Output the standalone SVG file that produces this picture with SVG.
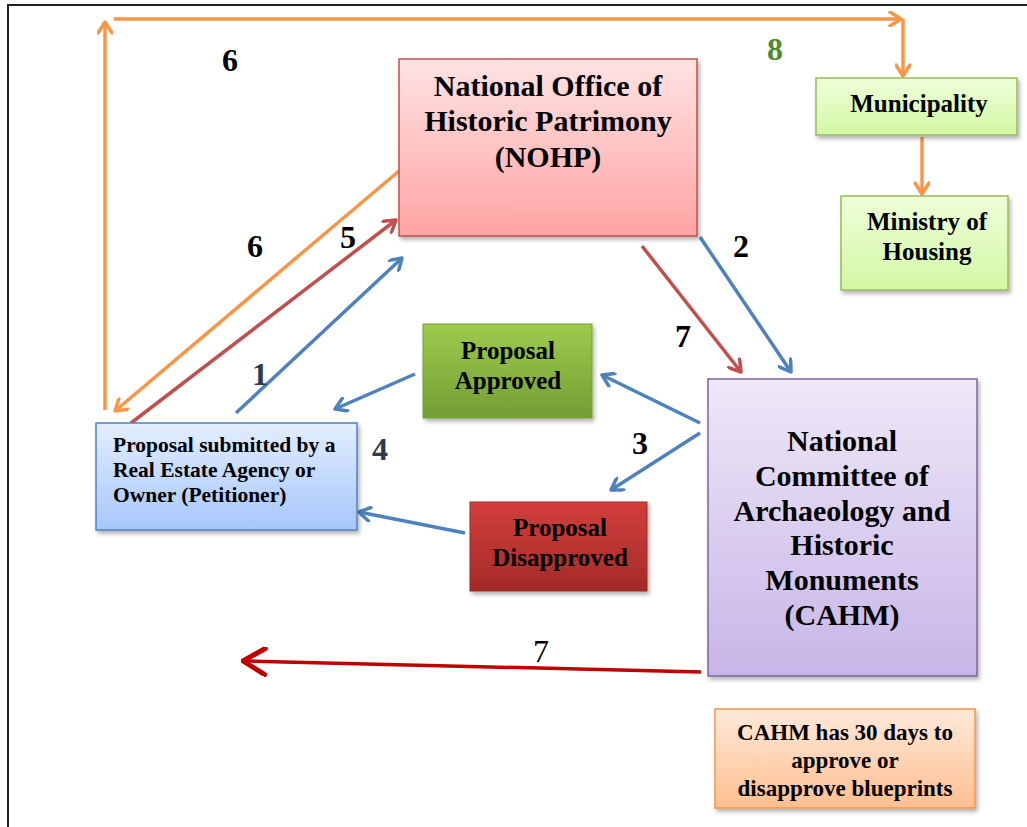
<svg xmlns="http://www.w3.org/2000/svg" width="1027" height="827" viewBox="0 0 1027 827">
<style>
text{font-family:"Liberation Serif","Times New Roman",serif;font-weight:bold;fill:#000}
.c{text-anchor:middle}
.big{font-size:30px}
.mid{font-size:25px}
.num{font-size:32px}
.conn line{fill:none;stroke-width:3.5}
.o{stroke:#F79646}
.b{stroke:#4F81BD}
.r{stroke:#C0504D}
</style>
<defs>
<filter id="sh" x="-10%" y="-10%" width="130%" height="130%">
<feDropShadow dx="2" dy="3" stdDeviation="2" flood-color="#000" flood-opacity="0.3"/>
</filter>
<linearGradient id="gPink" x1="0" y1="0" x2="0" y2="1"><stop offset="0" stop-color="#FFE3E3"/><stop offset="1" stop-color="#FFA3A3"/></linearGradient>
<linearGradient id="gLime" x1="0" y1="0" x2="0" y2="1"><stop offset="0" stop-color="#EEFFD8"/><stop offset="1" stop-color="#D3F7A5"/></linearGradient>
<linearGradient id="gGreen" x1="0" y1="0" x2="0" y2="1"><stop offset="0" stop-color="#9DCB4C"/><stop offset="1" stop-color="#739E34"/></linearGradient>
<linearGradient id="gBlue" x1="0" y1="0" x2="0" y2="1"><stop offset="0" stop-color="#E3EEFF"/><stop offset="1" stop-color="#A6C6FA"/></linearGradient>
<linearGradient id="gRed" x1="0" y1="0" x2="0" y2="1"><stop offset="0" stop-color="#D33F3C"/><stop offset="1" stop-color="#A32A28"/></linearGradient>
<linearGradient id="gPurple" x1="0" y1="0" x2="0" y2="1"><stop offset="0" stop-color="#EEE8F8"/><stop offset="1" stop-color="#C7B5E7"/></linearGradient>
<linearGradient id="gOrange" x1="0" y1="0" x2="0" y2="1"><stop offset="0" stop-color="#FFE9DA"/><stop offset="1" stop-color="#FFBF8F"/></linearGradient>
<marker id="aO" viewBox="0 0 16 16" refX="14" refY="8" markerWidth="16" markerHeight="16" markerUnits="userSpaceOnUse" orient="auto"><polyline points="3,1 14,8 3,15" fill="none" stroke="#F79646" stroke-width="3.5" stroke-linecap="round" stroke-linejoin="round"/></marker>
<marker id="aB" viewBox="0 0 16 16" refX="14" refY="8" markerWidth="16" markerHeight="16" markerUnits="userSpaceOnUse" orient="auto"><polyline points="3,1 14,8 3,15" fill="none" stroke="#4F81BD" stroke-width="3.5" stroke-linecap="round" stroke-linejoin="round"/></marker>
<marker id="aR" viewBox="0 0 16 16" refX="14" refY="8" markerWidth="16" markerHeight="16" markerUnits="userSpaceOnUse" orient="auto"><polyline points="3,1 14,8 3,15" fill="none" stroke="#C0504D" stroke-width="3.5" stroke-linecap="round" stroke-linejoin="round"/></marker>
<marker id="aD" viewBox="0 0 30 30" refX="28" refY="15" markerWidth="30" markerHeight="30" markerUnits="userSpaceOnUse" orient="auto"><polyline points="6,2 28,15 6,28" fill="none" stroke="#C00000" stroke-width="5" stroke-linecap="round" stroke-linejoin="round"/></marker>
</defs>
<rect width="1027" height="827" fill="#fff"/>
<polyline points="8,827 8,5 1027,5" fill="none" stroke="#222" stroke-width="2"/>

<g class="conn">
<line class="o" x1="105" y1="410" x2="105" y2="22" marker-end="url(#aO)"/>
<line class="o" x1="114" y1="19" x2="901" y2="19" marker-end="url(#aO)"/>
<line class="o" x1="903" y1="19" x2="903" y2="76" marker-end="url(#aO)"/>
<line class="o" x1="922" y1="137" x2="922" y2="194" marker-end="url(#aO)"/>
<line class="o" x1="399" y1="171" x2="115" y2="411" marker-end="url(#aO)"/>
<line class="r" x1="131" y1="423" x2="396" y2="220" marker-end="url(#aR)"/>
<line class="b" x1="236" y1="413" x2="402" y2="258" marker-end="url(#aB)"/>
<line class="r" x1="642" y1="246" x2="741" y2="372" marker-end="url(#aR)"/>
<line class="b" x1="700" y1="237" x2="791" y2="372" marker-end="url(#aB)"/>
<line class="b" x1="700" y1="423" x2="602" y2="375" marker-end="url(#aB)"/>
<line class="b" x1="700" y1="433" x2="611" y2="490" marker-end="url(#aB)"/>
<line class="b" x1="415" y1="374" x2="335" y2="409" marker-end="url(#aB)"/>
<line class="b" x1="465" y1="533" x2="359" y2="512" marker-end="url(#aB)"/>
<line x1="701" y1="672" x2="243" y2="661" stroke="#C00000" stroke-width="5.5" marker-end="url(#aD)"/>
</g>

<g id="nohp">
<rect x="399" y="59" width="298" height="177" fill="url(#gPink)" stroke="#C0504D" stroke-width="1.5" filter="url(#sh)"/>
<text class="c big" x="548" y="96">National Office of</text>
<text class="c big" x="548" y="131">Historic Patrimony</text>
<text class="c big" x="548" y="167">(NOHP)</text>
</g>
<g id="municipality">
<rect x="816" y="78" width="201" height="57" fill="url(#gLime)" stroke="#9BBB59" stroke-width="1.5" filter="url(#sh)"/>
<text class="c mid" x="919" y="112">Municipality</text>
</g>
<g id="ministry">
<rect x="841" y="196" width="167" height="94" fill="url(#gLime)" stroke="#9BBB59" stroke-width="1.5" filter="url(#sh)"/>
<text class="c mid" x="927" y="230">Ministry of</text>
<text class="c mid" x="927" y="260">Housing</text>
</g>
<g id="approved">
<rect x="423" y="324" width="169" height="94" fill="url(#gGreen)" stroke="#76A035" stroke-width="1" filter="url(#sh)"/>
<text class="c mid" x="508" y="359">Proposal</text>
<text class="c mid" x="508" y="389">Approved</text>
</g>
<g id="petitioner">
<rect x="96" y="423" width="261" height="107" fill="url(#gBlue)" stroke="#4F81BD" stroke-width="1.5" filter="url(#sh)"/>
<text x="113" y="452" font-size="21.5">Proposal submitted by a</text>
<text x="113" y="477" font-size="21.5">Real Estate Agency or</text>
<text x="113" y="502" font-size="21.5">Owner (Petitioner)</text>
</g>
<g id="disapproved">
<rect x="470" y="502" width="177" height="89" fill="url(#gRed)" stroke="#A32A28" stroke-width="1" filter="url(#sh)"/>
<text class="c mid" x="560" y="536">Proposal</text>
<text class="c mid" x="560" y="566">Disapproved</text>
</g>
<g id="cahm">
<rect x="708" y="379" width="269" height="297" fill="url(#gPurple)" stroke="#8064A2" stroke-width="1.5" filter="url(#sh)"/>
<text class="c big" x="842" y="451">National</text>
<text class="c big" x="842" y="486">Committee of</text>
<text class="c big" x="842" y="521">Archaeology and</text>
<text class="c big" x="842" y="555">Historic</text>
<text class="c big" x="842" y="590">Monuments</text>
<text class="c big" x="842" y="625">(CAHM)</text>
</g>
<g id="note">
<rect x="715" y="709" width="260" height="99" fill="url(#gOrange)" stroke="#F79646" stroke-width="1.5" filter="url(#sh)"/>
<text class="c" x="845" y="740" font-size="23">CAHM has 30 days to</text>
<text class="c" x="845" y="768" font-size="23">approve or</text>
<text class="c" x="845" y="796" font-size="23">disapprove blueprints</text>
</g>

<g id="labels">
<text class="c num" x="230" y="71">6</text>
<text class="c num" x="775" y="60" style="fill:#4F8A2F">8</text>
<text class="c num" x="255" y="257">6</text>
<text class="c num" x="348" y="248">5</text>
<text class="c num" x="741" y="257">2</text>
<text class="c num" x="683" y="347">7</text>
<text class="c num" x="260" y="385" style="fill:#2C3A4E">1</text>
<text class="c num" x="380" y="460" style="fill:#2C3A4E">4</text>
<text class="c num" x="640" y="454">3</text>
<text class="c num" x="541" y="662" style="font-weight:normal">7</text>
</g>
</svg>
